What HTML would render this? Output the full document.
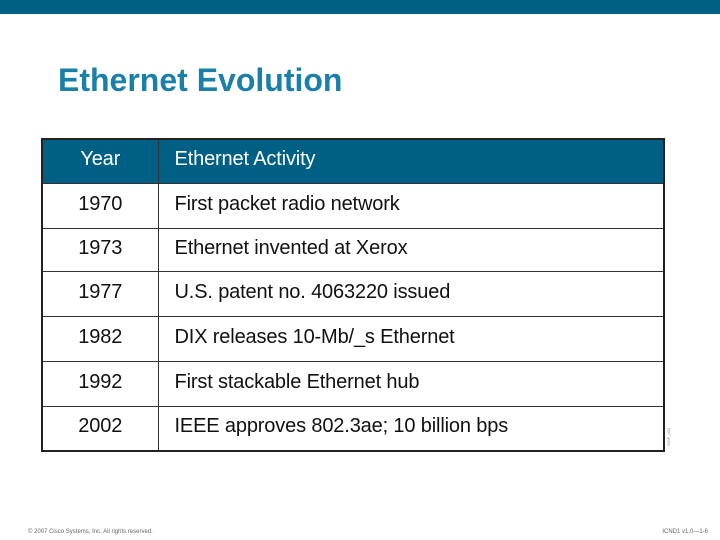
<!DOCTYPE html>
<html><head><meta charset="utf-8"><style>
body{margin:0;width:720px;height:540px;background:#fff;position:relative;overflow:hidden;font-family:"Liberation Sans",Arial,sans-serif}
#bar{position:absolute;left:0;top:0;width:720px;height:14px;background:#005f85}
#title{position:absolute;left:58px;top:62px;font-size:32px;font-weight:bold;color:#1a80aa}
table{position:absolute;left:41px;top:138px;width:624px;border-collapse:collapse;border:2px solid #222}
td{border:1.5px solid #333;font-size:20px;letter-spacing:-0.15px;color:#111;padding:0 0 3px 0;height:41px;box-sizing:border-box}
td.y{width:116px;text-align:center}
td.a{padding-left:16px}
tr.h td{background:#005f85;color:#fff}
#foot1{position:absolute;left:28px;top:529px;font-size:6px;color:#666}
#foot2{position:absolute;right:12px;top:529px;font-size:6px;color:#666}
#side{position:absolute;left:666px;top:446px;font-size:4px;color:#888;transform:rotate(-90deg);transform-origin:left top}
</style></head><body>
<div id="bar"></div>
<div id="title">Ethernet Evolution</div>
<table>
<tr class="h"><td class="y" style="height:44px">Year</td><td class="a">Ethernet Activity</td></tr>
<tr><td class="y" style="height:45px">1970</td><td class="a">First packet radio network</td></tr>
<tr><td class="y" style="height:43px">1973</td><td class="a">Ethernet invented at Xerox</td></tr>
<tr><td class="y" style="height:45px">1977</td><td class="a">U.S. patent no. 4063220 issued</td></tr>
<tr><td class="y" style="height:45px">1982</td><td class="a">DIX releases 10-Mb/_s Ethernet</td></tr>
<tr><td class="y" style="height:45px">1992</td><td class="a">First stackable Ethernet hub</td></tr>
<tr><td class="y" style="height:45px">2002</td><td class="a">IEEE approves 802.3ae; 10 billion bps</td></tr>
</table>
<div id="side">SNIP_003</div>
<div id="foot1">© 2007 Cisco Systems, Inc. All rights reserved.</div>
<div id="foot2">ICND1 v1.0—1-6</div>
</body></html>
